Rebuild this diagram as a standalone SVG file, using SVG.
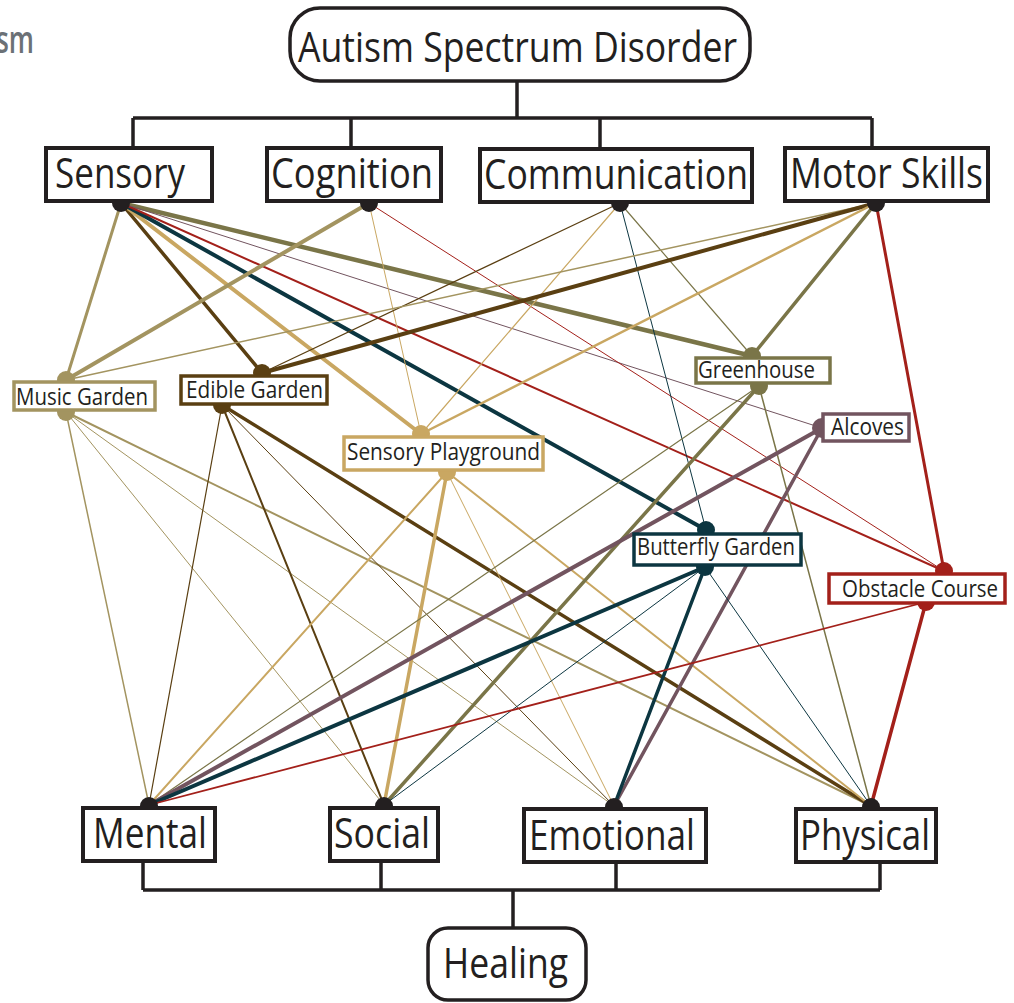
<svg xmlns="http://www.w3.org/2000/svg" width="1014" height="1003" viewBox="0 0 1014 1003">
  <style>
    .bg { fill: #ffffff; }
    .tree { fill: none; stroke: #231f20; stroke-width: 3.5; }
    .main { fill: #ffffff; stroke: #231f20; stroke-width: 3.5; }
    .cat { fill: #ffffff; stroke: #231f20; stroke-width: 4; }
    .mid { fill: #ffffff; stroke-width: 3.5; }
    .big { font-family: "Open Sans", "Noto Sans", sans-serif; font-size: 42px; fill: #231f20; }
    .small { font-family: "Open Sans", "Noto Sans", sans-serif; font-size: 23px; fill: #231f20; }
    .hub { fill: #231f20; }
    line { fill: none; stroke-linecap: round; }
    .mg { stroke: #a39460; } .mgf { fill: #a39460; }
    .eg { stroke: #5a3f12; } .egf { fill: #5a3f12; }
    .sp { stroke: #c9a762; } .spf { fill: #c9a762; }
    .gh { stroke: #7a7548; } .ghf { fill: #7a7548; }
    .al { stroke: #72545f; } .alf { fill: #72545f; }
    .bf { stroke: #0c3641; } .bff { fill: #0c3641; }
    .oc { stroke: #a3201a; } .ocf { fill: #a3201a; }
  </style>

  <rect class="bg" x="0" y="0" width="1014" height="1003"/>

  <!-- heading fragment at the left edge -->
  <text x="-4" y="53" font-family="Open Sans, sans-serif" font-weight="600" font-size="38" fill="#6b7176" textLength="38" lengthAdjust="spacingAndGlyphs">sm</text>

  <!-- hierarchy brackets -->
  <g id="brackets">
    <path class="tree" d="M517,82 V118 M133,118 H872 M133,118 V148 M351,118 V148 M600,118 V149 M872,118 V148"/>
    <path class="tree" d="M143,861 V890 M381,861 V890 M616,862 V890 M880,862 V890 M143,890 H880 M513,890 V928"/>
  </g>

  <!-- weighted links between domains, gardens and outcomes -->
  <g id="connectors">
    <!-- Sensory -->
    <line class="mg" x1="121" y1="203" x2="66" y2="380" stroke-width="3"/>
    <line class="eg" x1="121" y1="203" x2="262" y2="373" stroke-width="3.5"/>
    <line class="sp" x1="121" y1="203" x2="421" y2="434" stroke-width="4"/>
    <line class="bf" x1="121" y1="203" x2="706" y2="530" stroke-width="4"/>
    <line class="gh" x1="121" y1="203" x2="752" y2="356" stroke-width="4.5"/>
    <line class="oc" x1="121" y1="203" x2="944" y2="571" stroke-width="2"/>
    <line class="al" x1="121" y1="203" x2="822" y2="428" stroke-width="1"/>
    <!-- Cognition -->
    <line class="mg" x1="369" y1="203" x2="66" y2="380" stroke-width="4"/>
    <line class="sp" x1="369" y1="203" x2="421" y2="434" stroke-width="1"/>
    <line class="oc" x1="369" y1="203" x2="944" y2="571" stroke-width="1"/>
    <!-- Communication -->
    <line class="eg" x1="620" y1="203" x2="262" y2="373" stroke-width="1.2"/>
    <line class="sp" x1="620" y1="203" x2="421" y2="434" stroke-width="1.2"/>
    <line class="bf" x1="620" y1="203" x2="706" y2="530" stroke-width="1"/>
    <line class="gh" x1="620" y1="203" x2="752" y2="356" stroke-width="1.2"/>
    <!-- Motor Skills -->
    <line class="mg" x1="876" y1="203" x2="66" y2="380" stroke-width="1.5"/>
    <line class="eg" x1="876" y1="203" x2="262" y2="373" stroke-width="4"/>
    <line class="sp" x1="876" y1="203" x2="421" y2="434" stroke-width="2.5"/>
    <line class="gh" x1="876" y1="203" x2="752" y2="356" stroke-width="3.5"/>
    <line class="oc" x1="876" y1="203" x2="944" y2="571" stroke-width="3"/>
    <!-- Music Garden -->
    <line class="mg" x1="66" y1="412" x2="149" y2="805" stroke-width="1.5"/>
    <line class="mg" x1="66" y1="412" x2="384" y2="805" stroke-width="1"/>
    <line class="mg" x1="66" y1="412" x2="614" y2="806" stroke-width="1"/>
    <line class="mg" x1="66" y1="412" x2="871" y2="806" stroke-width="2"/>
    <!-- Edible Garden -->
    <line class="eg" x1="222" y1="405" x2="149" y2="805" stroke-width="1.2"/>
    <line class="eg" x1="222" y1="405" x2="384" y2="805" stroke-width="2"/>
    <line class="eg" x1="222" y1="405" x2="614" y2="806" stroke-width="1"/>
    <line class="eg" x1="222" y1="405" x2="871" y2="806" stroke-width="3.5"/>
    <!-- Sensory Playground -->
    <line class="sp" x1="447" y1="472" x2="149" y2="805" stroke-width="2"/>
    <line class="sp" x1="447" y1="472" x2="384" y2="805" stroke-width="3.5"/>
    <line class="sp" x1="447" y1="472" x2="614" y2="806" stroke-width="1"/>
    <line class="sp" x1="447" y1="472" x2="871" y2="806" stroke-width="2"/>
    <!-- Greenhouse -->
    <line class="gh" x1="759" y1="386" x2="149" y2="805" stroke-width="1.2"/>
    <line class="gh" x1="759" y1="386" x2="384" y2="805" stroke-width="3.5"/>
    <line class="gh" x1="759" y1="386" x2="871" y2="806" stroke-width="1.5"/>
    <!-- Alcoves -->
    <line class="al" x1="822" y1="428" x2="149" y2="805" stroke-width="4"/>
    <line class="al" x1="822" y1="428" x2="614" y2="806" stroke-width="3.5"/>
    <!-- Butterfly Garden -->
    <line class="bf" x1="705" y1="567" x2="149" y2="805" stroke-width="4"/>
    <line class="bf" x1="705" y1="567" x2="384" y2="805" stroke-width="1"/>
    <line class="bf" x1="705" y1="567" x2="614" y2="806" stroke-width="3.5"/>
    <line class="bf" x1="705" y1="567" x2="871" y2="806" stroke-width="1"/>
    <!-- Obstacle Course -->
    <line class="oc" x1="926" y1="602" x2="149" y2="805" stroke-width="1.8"/>
    <line class="oc" x1="926" y1="602" x2="871" y2="806" stroke-width="3.5"/>
  </g>

  <!-- root and goal -->
  <g id="node-asd">
    <rect class="main" x="290" y="8" width="460" height="73" rx="30" ry="30"/>
    <text class="big" x="298" y="62" textLength="439" lengthAdjust="spacingAndGlyphs">Autism Spectrum Disorder</text>
  </g>
  <g id="node-healing">
    <rect class="main" x="428" y="928" width="158" height="72" rx="20" ry="20"/>
    <text class="big" x="443" y="978" textLength="125" lengthAdjust="spacingAndGlyphs">Healing</text>
  </g>

  <!-- domains -->
  <g id="node-sensory">
    <circle class="hub" cx="121" cy="203" r="9"/>
    <rect class="cat" x="46" y="148" width="166" height="53"/>
    <text class="big" x="55" y="188" textLength="130" lengthAdjust="spacingAndGlyphs">Sensory</text>
  </g>
  <g id="node-cognition">
    <circle class="hub" cx="369" cy="203" r="9"/>
    <rect class="cat" x="267" y="148" width="174" height="53"/>
    <text class="big" x="271" y="188" textLength="162" lengthAdjust="spacingAndGlyphs">Cognition</text>
  </g>
  <g id="node-communication">
    <circle class="hub" cx="620" cy="203" r="9"/>
    <rect class="cat" x="480" y="149" width="272" height="53"/>
    <text class="big" x="484" y="189" textLength="264" lengthAdjust="spacingAndGlyphs">Communication</text>
  </g>
  <g id="node-motor">
    <circle class="hub" cx="876" cy="203" r="9"/>
    <rect class="cat" x="785" y="148" width="203" height="53"/>
    <text class="big" x="790" y="188" font-size="40" textLength="193" lengthAdjust="spacingAndGlyphs">Motor Skills</text>
  </g>

  <!-- gardens -->
  <g id="node-music-garden">
    <circle class="mgf" cx="66" cy="380" r="9"/>
    <circle class="mgf" cx="66" cy="412" r="9"/>
    <rect class="mid mg" x="14" y="382" width="141" height="28"/>
    <text class="small" x="16" y="405" textLength="132" lengthAdjust="spacingAndGlyphs">Music Garden</text>
  </g>
  <g id="node-edible-garden">
    <circle class="egf" cx="262" cy="373" r="9"/>
    <circle class="egf" cx="222" cy="405" r="9"/>
    <rect class="mid eg" x="181" y="376" width="146" height="28"/>
    <text class="small" x="186" y="398" textLength="137" lengthAdjust="spacingAndGlyphs">Edible Garden</text>
  </g>
  <g id="node-sensory-playground">
    <circle class="spf" cx="421" cy="434" r="9"/>
    <circle class="spf" cx="447" cy="472" r="9"/>
    <rect class="mid sp" x="344" y="437" width="199" height="33"/>
    <text class="small" x="347" y="460" textLength="193" lengthAdjust="spacingAndGlyphs">Sensory Playground</text>
  </g>
  <g id="node-greenhouse">
    <circle class="ghf" cx="752" cy="356" r="9"/>
    <circle class="ghf" cx="759" cy="386" r="9"/>
    <rect class="mid gh" x="696" y="358" width="134" height="25"/>
    <text class="small" x="698" y="378" textLength="117" lengthAdjust="spacingAndGlyphs">Greenhouse</text>
  </g>
  <g id="node-alcoves">
    <circle class="alf" cx="822" cy="428" r="10"/>
    <rect class="mid al" x="823" y="414" width="86" height="27"/>
    <text class="small" x="831" y="435" textLength="73" lengthAdjust="spacingAndGlyphs">Alcoves</text>
  </g>
  <g id="node-butterfly-garden">
    <circle class="bff" cx="706" cy="530" r="9"/>
    <circle class="bff" cx="705" cy="567" r="9"/>
    <rect class="mid bf" x="634" y="534" width="167" height="31"/>
    <text class="small" x="637" y="555" textLength="158" lengthAdjust="spacingAndGlyphs">Butterfly Garden</text>
  </g>
  <g id="node-obstacle-course">
    <circle class="ocf" cx="944" cy="571" r="9"/>
    <circle class="ocf" cx="926" cy="602" r="9"/>
    <rect class="mid oc" x="829" y="574" width="176" height="29"/>
    <text class="small" x="842" y="597" font-size="22" textLength="156" lengthAdjust="spacingAndGlyphs">Obstacle Course</text>
  </g>

  <!-- outcomes -->
  <g id="node-mental">
    <circle class="hub" cx="149" cy="806" r="9"/>
    <rect class="cat" x="83" y="808" width="132" height="53"/>
    <text class="big" x="93" y="848" textLength="114" lengthAdjust="spacingAndGlyphs">Mental</text>
  </g>
  <g id="node-social">
    <circle class="hub" cx="384" cy="806" r="9"/>
    <rect class="cat" x="330" y="808" width="108" height="53"/>
    <text class="big" x="334" y="848" textLength="96" lengthAdjust="spacingAndGlyphs">Social</text>
  </g>
  <g id="node-emotional">
    <circle class="hub" cx="614" cy="807" r="9"/>
    <rect class="cat" x="524" y="809" width="182" height="53"/>
    <text class="big" x="529" y="850" textLength="166" lengthAdjust="spacingAndGlyphs">Emotional</text>
  </g>
  <g id="node-physical">
    <circle class="hub" cx="871" cy="807" r="9"/>
    <rect class="cat" x="796" y="809" width="140" height="53"/>
    <text class="big" x="800" y="850" textLength="130" lengthAdjust="spacingAndGlyphs">Physical</text>
  </g>
</svg>
